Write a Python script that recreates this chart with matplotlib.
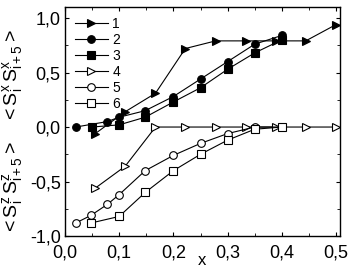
import numpy as np
import matplotlib.pyplot as plt
from matplotlib.ticker import MultipleLocator, FuncFormatter

plt.rcParams['font.family'] = ['Liberation Sans', 'DejaVu Sans']
plt.rcParams['mathtext.fontset'] = 'custom'
plt.rcParams['mathtext.rm'] = 'Liberation Sans'
plt.rcParams['mathtext.it'] = 'Liberation Sans'

# series 1-3: <SxSx>, series 4-6: <SzSz>
x1 = [0.056, 0.111, 0.167, 0.222, 0.278, 0.333, 0.389, 0.444, 0.5]
y1 = [-0.06, 0.14, 0.31, 0.72, 0.79, 0.79, 0.79, 0.79, 0.94]
x2 = [0.02, 0.078, 0.1, 0.148, 0.2, 0.25, 0.3, 0.35, 0.4]
y2 = [0.0, 0.05, 0.09, 0.15, 0.28, 0.44, 0.60, 0.76, 0.84]
x3 = [0.05, 0.1, 0.148, 0.2, 0.25, 0.3, 0.35, 0.4]
y3 = [0.0, 0.02, 0.09, 0.23, 0.36, 0.53, 0.68, 0.80]
x4 = [0.056, 0.111, 0.167, 0.222, 0.278, 0.333, 0.389, 0.444, 0.5]
y4 = [-0.56, -0.36, 0.0, 0.0, 0.0, 0.0, 0.0, 0.0, 0.0]
x5 = [0.02, 0.048, 0.078, 0.1, 0.148, 0.2, 0.25, 0.3, 0.35, 0.4]
y5 = [-0.88, -0.81, -0.71, -0.62, -0.40, -0.26, -0.15, -0.06, 0.0, 0.0]
x6 = [0.048, 0.1, 0.148, 0.2, 0.25, 0.3, 0.35, 0.4]
y6 = [-0.88, -0.82, -0.60, -0.40, -0.25, -0.12, -0.02, 0.0]

fig = plt.figure(figsize=(3.49, 2.72), dpi=100)
ax = fig.add_axes([0.186, 0.132, 0.788, 0.842])

style = dict(color='black', lw=0.8, ms=5.5, mec='black', mew=0.8)
ax.plot(x1, y1, marker='>', mfc='black', label='1', **style)
ax.plot(x2, y2, marker='o', mfc='black', label='2', **style)
ax.plot(x3, y3, marker='s', mfc='black', label='3', **style)
ax.plot(x4, y4, marker='>', mfc='white', label='4', **style)
ax.plot(x5, y5, marker='o', mfc='white', label='5', **style)
ax.plot(x6, y6, marker='s', mfc='white', label='6', **style)

ax.set_xlim(0, 0.507)
ax.set_ylim(-1.0, 1.1)
ax.xaxis.set_major_locator(MultipleLocator(0.1))
ax.xaxis.set_minor_locator(MultipleLocator(0.05))
ax.yaxis.set_major_locator(MultipleLocator(0.5))
ax.yaxis.set_minor_locator(MultipleLocator(0.25))
comma = FuncFormatter(lambda v, p: ('%.1f' % v).replace('.', ','))
ax.xaxis.set_major_formatter(comma)
ax.yaxis.set_major_formatter(comma)
ax.tick_params(which='both', direction='in', top=True, right=True, labelsize=13)
ax.tick_params(which='major', length=3)
ax.tick_params(axis='x', which='major', pad=6)
ax.tick_params(axis='y', which='major', pad=3)
ax.tick_params(which='minor', length=2)
for s in ax.spines.values():
    s.set_linewidth(1.0)

ax.set_xlabel('x', fontsize=12, labelpad=-6)
fig.text(0.035, 0.72, r'$<\mathrm{S}^x_i\,\mathrm{S}^x_{i+5}>$', rotation=90,
         ha='center', va='center', fontsize=14)
fig.text(0.035, 0.31, r'$<\mathrm{S}^z_i\,\mathrm{S}^z_{i+5}>$', rotation=90,
         ha='center', va='center', fontsize=14)

ax.legend(loc='upper left', frameon=False, fontsize=10, handlelength=2.4,
          handletextpad=0.3, labelspacing=0.15, borderaxespad=0.3)

fig.savefig('out.png', dpi=100)
